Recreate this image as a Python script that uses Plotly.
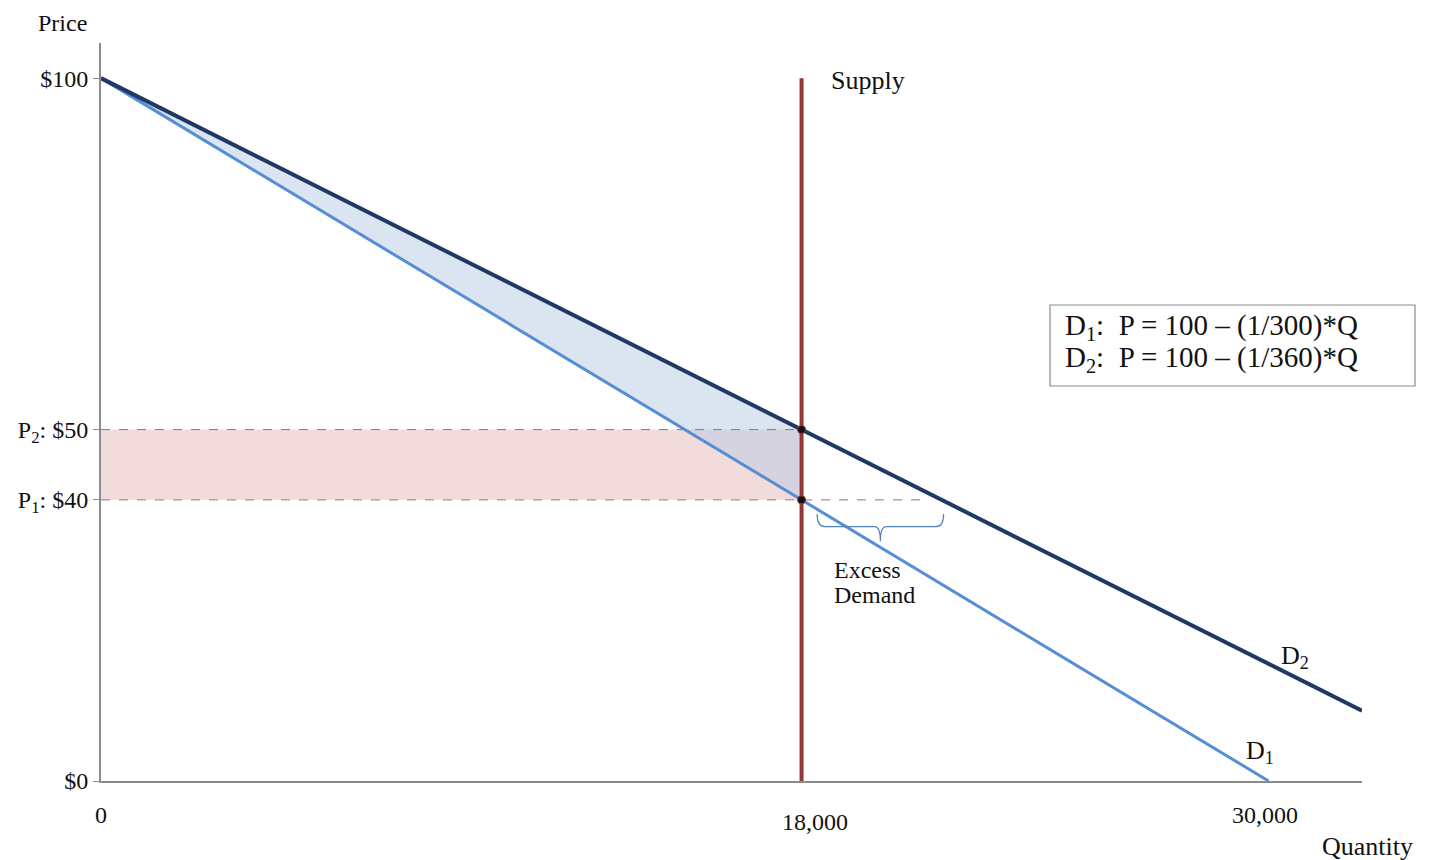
import plotly.graph_objects as go

# Data
q_max = 32400
d1_intercept, d1_slope = 100, 1/300
d2_intercept, d2_slope = 100, 1/360
supply_q = 18000
p1, p2 = 40, 50
d1_q = [0, 30000]
d2_q = [0, 32400]
excess_q_end = 21200
ytick_vals = [0, 40, 50, 100]
ytick_text = ["$0", "P<sub>1</sub>: $40", "P<sub>2</sub>: $50", "$100"]
xtick_vals = [0, 18000, 30000]
xtick_text = ["0", "18,000", "30,000"]

FONT = "Liberation Serif"
FS = 26

d1_p = [d1_intercept - d1_slope * q for q in d1_q]
d2_p = [d2_intercept - d2_slope * q for q in d2_q]

fig = go.Figure()

# pink rectangle between P1 and P2
fig.add_trace(go.Scatter(x=[0, supply_q, supply_q, 0, 0], y=[p1, p1, p2, p2, p1],
                         fill="toself", fillcolor="rgba(230,184,183,0.5)",
                         line=dict(width=0), mode="lines", hoverinfo="skip", showlegend=False))
# blue triangle between D1 and D2
fig.add_trace(go.Scatter(x=[0, supply_q, supply_q, 0],
                         y=[100, d2_intercept - d2_slope * supply_q, d1_intercept - d1_slope * supply_q, 100],
                         fill="toself", fillcolor="rgba(184,204,228,0.5)",
                         line=dict(width=0), mode="lines", hoverinfo="skip", showlegend=False))
# dashed price lines
fig.add_trace(go.Scatter(x=[0, supply_q], y=[p2, p2], mode="lines",
                         line=dict(color="#7f7f7f", width=1, dash="dash"), showlegend=False))
fig.add_trace(go.Scatter(x=[0, excess_q_end], y=[p1, p1], mode="lines",
                         line=dict(color="#7f7f7f", width=1, dash="dash"), showlegend=False))
# supply
fig.add_trace(go.Scatter(x=[supply_q, supply_q], y=[0, 100], mode="lines",
                         line=dict(color="#953735", width=4), showlegend=False))
# D1
fig.add_trace(go.Scatter(x=d1_q, y=d1_p, mode="lines",
                         line=dict(color="#558ed5", width=3), showlegend=False))
# D2
fig.add_trace(go.Scatter(x=d2_q, y=d2_p, mode="lines",
                         line=dict(color="#1f3864", width=4), showlegend=False))
# intersection points
fig.add_trace(go.Scatter(x=[supply_q, supply_q], y=[p2, p1], mode="markers",
                         marker=dict(color="#111111", size=8, line=dict(color="#953735", width=1)),
                         showlegend=False))

# brace
b_l, b_r, b_top, b_bot, b_tip = 18400, 21650, 38.0, 36.2, 34.1
b_mid = (b_l + b_r) / 2
brace_path = (f"M {b_l},{b_top} Q {b_l},{b_bot} {b_l+200},{b_bot} L {b_mid-150},{b_bot} "
              f"Q {b_mid},{b_bot} {b_mid},{b_tip} Q {b_mid},{b_bot} {b_mid+150},{b_bot} "
              f"L {b_r-200},{b_bot} Q {b_r},{b_bot} {b_r},{b_top}")
fig.add_shape(type="path", path=brace_path, xref="x", yref="y",
              line=dict(color="#4f81bd", width=1.2))

OFF = 8  # page body margin
W, H = 1431 - OFF, 860 - OFF
L, R, T, B = 101 - OFF, 69, 43 - OFF, 79


def px_to_paper(px, py):
    return (px - OFF - L) / (W - L - R), (H - B - (py - OFF)) / (H - T - B)


# legend box
bx0, by0 = px_to_paper(1050, 386)
bx1, by1 = px_to_paper(1415, 305)
fig.add_shape(type="rect", xref="paper", yref="paper", x0=bx0, x1=bx1, y0=by0, y1=by1,
              line=dict(color="#8c8c8c", width=1.2), fillcolor="white")

anns = []


def add(px, py, text, xanchor="center", yanchor="middle", size=FS):
    x, y = px_to_paper(px, py)
    anns.append(dict(x=x, y=y, xref="paper", yref="paper", text=text, xanchor=xanchor,
                     yanchor=yanchor, align="left", showarrow=False,
                     font=dict(family=FONT, size=size, color="#111111")))


add(1063, 327, "D<sub>1</sub>:  P = 100 – (1/300)*Q", xanchor="left", size=29)
add(1063, 359, "D<sub>2</sub>:  P = 100 – (1/360)*Q", xanchor="left", size=29)
add(62, 8, "Price", yanchor="top", size=24)
add(1367, 846, "Quantity")
add(829, 81, "Supply", xanchor="left")
add(1295, 657, "D<sub>2</sub>")
add(1260, 752, "D<sub>1</sub>")
add(832, 570, "Excess", xanchor="left", size=24)
add(832, 595, "Demand", xanchor="left", size=24)
# x tick labels
xt_px = [(101, 815), (815, 822), (1265, 815)]
for (px, py), t in zip(xt_px, xtick_text):
    add(px, py, t, size=24)

fig.update_layout(
    width=W, height=H,
    margin=dict(l=L, r=R, t=T, b=B, autoexpand=False),
    plot_bgcolor="white", paper_bgcolor="white",
    annotations=anns,
    xaxis=dict(range=[0, q_max], showgrid=False, zeroline=False, showline=True,
               linecolor="#8c8c8c", linewidth=2, showticklabels=False, ticks="",
               automargin=False),
    yaxis=dict(range=[0, 105], showgrid=False, zeroline=False, showline=True,
               linecolor="#8c8c8c", linewidth=2, tickvals=ytick_vals, ticktext=ytick_text,
               ticks="outside", ticklen=6, tickcolor="#8c8c8c", automargin=False,
               tickfont=dict(family=FONT, size=24, color="#111111")),
)

fig.write_html("out.html")
